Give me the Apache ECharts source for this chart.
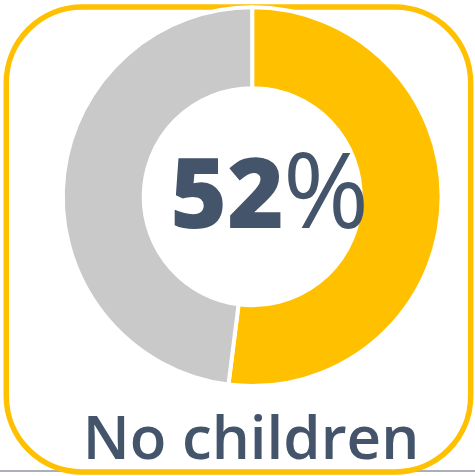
<!DOCTYPE html>
<html>
<head>
<meta charset="utf-8">
<script src="https://cdn.jsdelivr.net/npm/echarts@6/dist/echarts.min.js"></script>
<style>
  html, body { margin: 0; padding: 0; background: #ffffff; }
  #chart { width: 475px; height: 476px; }
</style>
</head>
<body>
<div id="chart"></div>
<script>
// Share of households, in percent
const categories = ['No children', 'Other'];
const shares = [52, 48];
const sliceColors = ['#FFC000', '#C9C9C9'];
const caption = categories[0];

const TEXT = '#44546A';
const chart = echarts.init(document.getElementById('chart'), null, { renderer: 'canvas' });

chart.setOption({
  animation: false,
  backgroundColor: '#ffffff',
  graphic: [
    // thin rule along the bottom edge
    { type: 'line', z: 1, shape: { x1: 0, y1: 471, x2: 475, y2: 471 },
      style: { stroke: '#56606C', lineWidth: 1 } },
    // rounded frame
    { type: 'rect', z: 2, shape: { x: 6.3, y: 7, width: 464.4, height: 465, r: 76 },
      style: { fill: null, stroke: '#FFC000', lineWidth: 5.5 } },
    // big percentage: heavy digits, lighter percent sign
    { type: 'text', z: 10, x: 284, y: 200.5,
      style: { text: String(shares[0]), font: '800 97px "Open Sans"', fill: TEXT,
               align: 'right', verticalAlign: 'middle' } },
    { type: 'text', z: 10, x: 283, y: 198.5,
      style: { text: '%', font: 'normal 104px "Open Sans"', fill: TEXT,
               align: 'left', verticalAlign: 'middle' } },
    // caption
    { type: 'text', z: 10, x: 251, y: 442,
      style: { text: caption, font: '600 60px "Open Sans"', fill: TEXT,
               align: 'center', verticalAlign: 'middle' } }
  ],
  series: [{
    type: 'pie',
    z: 3,
    center: [252.2, 196.7],
    radius: [108.5, 189.4],
    startAngle: 90,
    clockwise: true,
    silent: true,
    label: { show: false },
    labelLine: { show: false },
    itemStyle: { borderColor: '#ffffff', borderWidth: 4 },
    data: categories.map((name, i) => ({
      name, value: shares[i], itemStyle: { color: sliceColors[i] }
    }))
  }]
});
</script>
</body>
</html>
